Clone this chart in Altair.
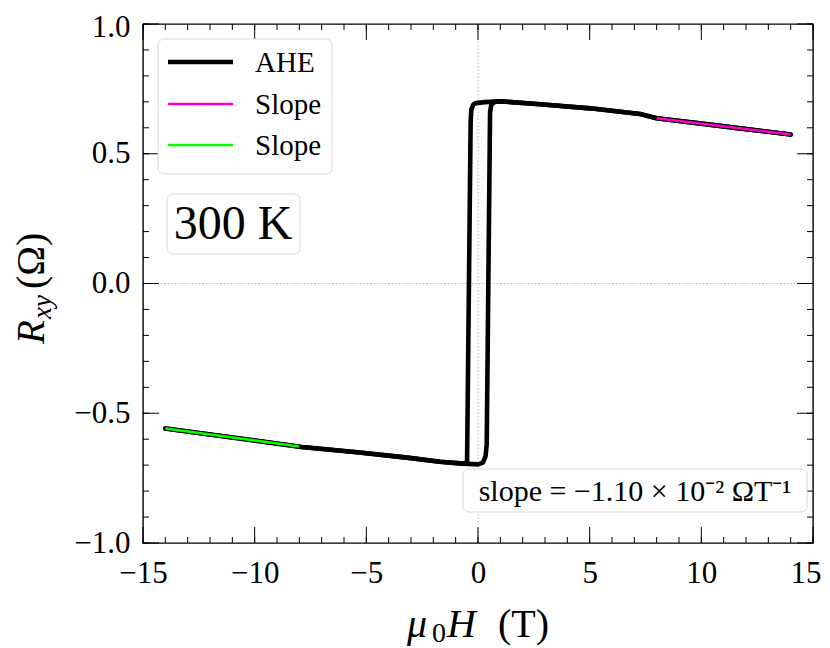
import altair as alt
import pandas as pd

# ---------------- data ----------------
# descending sweep (+14 T -> -14 T)
field_down = [14, 12, 10, 8, 7.26, 5.02, 2.78, 1.0, 0.3, -0.1, -0.22, -0.30, -0.33,
              -0.49, -0.67, -1.70, -3.18, -5.42, -7.9, -10, -12, -14]
r_down = [0.574, 0.595, 0.616, 0.637, 0.653, 0.675, 0.691, 0.702, 0.699, 0.695, 0.688, 0.670, 0.62,
          -0.690, -0.694, -0.687, -0.671, -0.650, -0.630, -0.605, -0.582, -0.559]
# ascending sweep (-14 T -> +14 T)
field_up = [-14, -12, -10, -7.9, -5.42, -3.18, -1.70, -0.67, 0.0, 0.22, 0.34, 0.39,
            0.54, 0.60, 0.75, 1.0, 2.78, 5.02, 7.26, 8, 10, 12, 14]
r_up = [-0.559, -0.582, -0.605, -0.630, -0.650, -0.671, -0.687, -0.694, -0.697, -0.690, -0.665, -0.62,
        0.66, 0.690, 0.700, 0.702, 0.691, 0.675, 0.653, 0.637, 0.616, 0.595, 0.574]
# linear fits
slope_pos_field = [8, 14]
slope_pos_r = [0.637, 0.574]
slope_neg_field = [-14, -8]
slope_neg_r = [-0.559, -0.628]

x_major = [-15, -10, -5, 0, 5, 10, 15]
x_minor = [-15, -14, -13, -12, -11, -10, -9, -8, -7, -6, -5, -4, -3, -2, -1, 0,
           1, 2, 3, 4, 5, 6, 7, 8, 9, 10, 11, 12, 13, 14, 15]
y_major = [-1.0, -0.5, 0.0, 0.5, 1.0]
y_minor = [-1.0, -0.9, -0.8, -0.7, -0.6, -0.5, -0.4, -0.3, -0.2, -0.1, 0.0,
           0.1, 0.2, 0.3, 0.4, 0.5, 0.6, 0.7, 0.8, 0.9, 1.0]

legend_labels = ["AHE", "Slope", "Slope"]
legend_colors = ["black", "#ff00cc", "#00ff00"]
legend_widths = [4.5, 2.6, 2.6]

temp_label = "300 K"
slope_label = "slope = \u22121.10 \u00d7 10\u207b\u00b2 \u03a9T\u207b\u00b9"

# ---------------- layout ----------------
W, H = 670, 519
FONT = "Liberation Serif"
MAJ, MIN = 16, 6

xs = alt.Scale(domain=[-15, 15], nice=False, zero=False)
ys = alt.Scale(domain=[-1, 1], nice=False, zero=False)

rows = []
for i, (h, r) in enumerate(zip(field_down, r_down)):
    rows.append({"H": h, "R": r, "branch": "down", "i": i})
for i, (h, r) in enumerate(zip(field_up, r_up)):
    rows.append({"H": h, "R": r, "branch": "up", "i": i})
df_ahe = pd.DataFrame(rows)
df_pos = pd.DataFrame({"H": slope_pos_field, "R": slope_pos_r})
df_neg = pd.DataFrame({"H": slope_neg_field, "R": slope_neg_r})
one = pd.DataFrame({"a": [0]})

x_axis = alt.Axis(values=x_major, title=None, grid=False, ticks=False, tickSize=0, domain=False,
                  labelFlush=False, labelOverlap=False,
                  labelAlign=alt.ConditionalAxisLabelAlign(
                      condition={"test": "datum.value >= 15", "value": "right"}, value="center"),
                  labelOffset=alt.ConditionalAxisNumber(
                      condition={"test": "datum.value >= 15", "value": 8}, value=0),
                  labelFont=FONT, labelFontSize=31, labelColor="black", labelPadding=39,
                  labelBaseline="alphabetic", labelExpr="replace(datum.label, '-', '\u2212')")
y_axis = alt.Axis(values=y_major, title=None, grid=False, ticks=False, tickSize=0, domain=False,
                  labelFlush=False, labelOverlap=False,
                  labelOffset=alt.ConditionalAxisNumber(
                      condition={"test": "datum.value >= 1", "value": 3}, value=0),
                  format=".1f", labelFont=FONT, labelFontSize=31, labelColor="black", labelPadding=13,
                  labelExpr="replace(datum.label, '-', '\u2212')")

layers = []

# zero lines
layers.append(alt.Chart(pd.DataFrame({"H": [0]})).mark_rule(
    color="#b0b0b0", strokeWidth=0.9, strokeDash=[1.5, 2]).encode(
    x=alt.X("H:Q", scale=xs, axis=x_axis)))
layers.append(alt.Chart(pd.DataFrame({"R": [0]})).mark_rule(
    color="#b0b0b0", strokeWidth=0.9, strokeDash=[1.5, 2]).encode(
    y=alt.Y("R:Q", scale=ys, axis=y_axis)))

# inward ticks on all four sides
for vals, ln in ((x_major, MAJ), (x_minor, MIN)):
    d = pd.DataFrame({"H": vals})
    layers.append(alt.Chart(d).mark_rule(color="black", strokeWidth=1).encode(
        x=alt.X("H:Q", scale=xs), y=alt.value(H), y2=alt.value(H - ln)))
    layers.append(alt.Chart(d).mark_rule(color="black", strokeWidth=1).encode(
        x=alt.X("H:Q", scale=xs), y=alt.value(0), y2=alt.value(ln)))
for vals, ln in ((y_major, MAJ), (y_minor, MIN)):
    d = pd.DataFrame({"R": vals})
    layers.append(alt.Chart(d).mark_rule(color="black", strokeWidth=1).encode(
        y=alt.Y("R:Q", scale=ys), x=alt.value(0), x2=alt.value(ln)))
    layers.append(alt.Chart(d).mark_rule(color="black", strokeWidth=1).encode(
        y=alt.Y("R:Q", scale=ys), x=alt.value(W), x2=alt.value(W - ln)))

# AHE loop
layers.append(alt.Chart(df_ahe).mark_line(
    color="black", strokeWidth=4.6, strokeCap="round", strokeJoin="round").encode(
    x=alt.X("H:Q", scale=xs), y=alt.Y("R:Q", scale=ys),
    detail="branch:N", order="i:Q"))
# slope fits
layers.append(alt.Chart(df_pos).mark_line(color=legend_colors[1], strokeWidth=2.6, strokeCap="butt").encode(
    x=alt.X("H:Q", scale=xs), y=alt.Y("R:Q", scale=ys)))
layers.append(alt.Chart(df_neg).mark_line(color=legend_colors[2], strokeWidth=2.6, strokeCap="butt").encode(
    x=alt.X("H:Q", scale=xs), y=alt.Y("R:Q", scale=ys)))

# boxes
def box(x1, x2, y1, y2):
    return alt.Chart(one).mark_rect(fill="white", fillOpacity=0.85, stroke="#d6d6d6",
                                    strokeWidth=1, cornerRadius=6).encode(
        x=alt.value(x1), x2=alt.value(x2), y=alt.value(y1), y2=alt.value(y2))

# legend
layers.append(box(15, 189, 15, 150))
row_y = [38, 80, 121]
for lab, col, wd, yy in zip(legend_labels, legend_colors, legend_widths, row_y):
    layers.append(alt.Chart(one).mark_rule(color=col, strokeWidth=wd).encode(
        x=alt.value(25), x2=alt.value(90), y=alt.value(yy)))
    layers.append(alt.Chart(one).mark_text(
        text=lab, font=FONT, fontSize=29, color="black", align="left", baseline="middle").encode(
        x=alt.value(112), y=alt.value(yy + 1)))

# temperature box
layers.append(box(24, 157, 170, 230))
layers.append(alt.Chart(one).mark_text(
    text=temp_label, font=FONT, fontSize=48, color="black", align="center", baseline="alphabetic").encode(
    x=alt.value(90), y=alt.value(215)))

# slope annotation box
layers.append(box(320, 664, 445, 488))
layers.append(alt.Chart(one).mark_text(
    text=slope_label, font=FONT, fontSize=30, color="black", align="center", baseline="alphabetic").encode(
    x=alt.value(492), y=alt.value(477)))

# axis titles (math-style pieces)
def txt(t, x, y, size, italic=False, angle=0):
    kw = dict(text=t, font=FONT, fontSize=size, color="black", align="left", baseline="alphabetic")
    if italic:
        kw["fontStyle"] = "italic"
    if angle:
        kw["angle"] = angle
    return alt.Chart(one).mark_text(**kw).encode(x=alt.value(x), y=alt.value(y))

layers.append(txt("\u03bc", 264, 613, 40, italic=True))
layers.append(txt("0", 289, 618, 28))
layers.append(txt("H", 304, 613, 40, italic=True))
layers.append(txt("(T)", 355, 613, 40))

layers.append(txt("R", -99, 320, 39, italic=True, angle=270))
layers.append(txt("xy", -92, 295, 27, italic=True, angle=270))
layers.append(txt("(\u03a9)", -99, 265, 40, angle=270))

chart = alt.layer(*layers).properties(
    width=W, height=H,
    autosize=alt.AutoSizeParams(type="none"),
    padding={"left": 135, "top": 16, "right": 9, "bottom": 105},
).configure_view(stroke="black", strokeWidth=1.4).configure_axis(domain=False, grid=False)

chart.save("out.html", embed_options={"renderer": "svg", "actions": False})
